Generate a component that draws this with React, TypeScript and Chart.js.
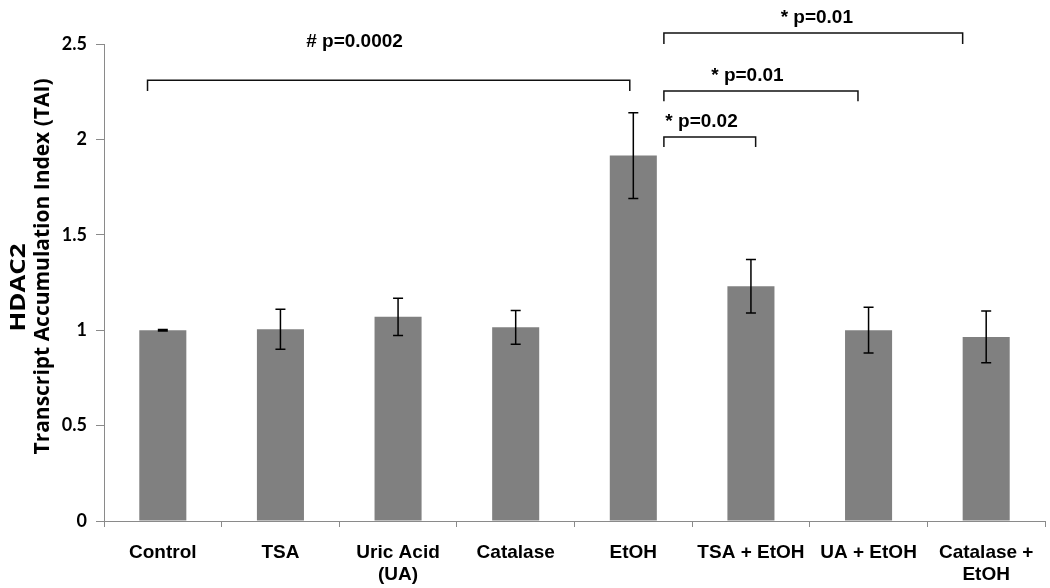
import { useEffect, useRef } from "react";
import { Chart, registerables } from "chart.js";

Chart.register(...registerables);

const categories: (string | string[])[] = [
  "Control",
  "TSA",
  ["Uric Acid", "(UA)"],
  "Catalase",
  "EtOH",
  "TSA + EtOH",
  "UA + EtOH",
  ["Catalase +", "EtOH"],
];
const taiValues = [1.0, 1.005, 1.07, 1.015, 1.915, 1.23, 1.0, 0.965];
const taiErrors = [0.004, 0.105, 0.098, 0.088, 0.225, 0.14, 0.12, 0.135];
const yTickValues = [0, 0.5, 1, 1.5, 2, 2.5];
const yTitle = ["HDAC2", "Transcript Accumulation Index (TAI)"];

// significance brackets: start/end in category-index units, heights in data units
const bracketLabels = ["# p=0.0002", "* p=0.01", "* p=0.01", "* p=0.02"];
const bracketStart = [-0.13, 4.26, 4.26, 4.26];
const bracketEnd = [3.97, 6.8, 5.91, 5.04];
const bracketTop = [2.31, 2.558, 2.254, 2.013];
const bracketFoot = [2.254, 2.5, 2.2, 1.96];
const labelAt = [1.63, 5.56, 4.97, 4.58];
const labelHeight = [2.51, 2.636, 2.332, 2.091];

const errorBarPlugin = {
  id: "errorBars",
  afterDatasetsDraw(chart: any) {
    const ctx = chart.ctx;
    const y = chart.scales.y;
    const meta = chart.getDatasetMeta(0);
    ctx.save();
    ctx.strokeStyle = "#000";
    ctx.lineWidth = 1.5;
    meta.data.forEach((bar: any, i: number) => {
      const v = taiValues[i];
      const e = taiErrors[i];
      const yt = y.getPixelForValue(v + e);
      const yb = y.getPixelForValue(v - e);
      const x = bar.x;
      ctx.beginPath();
      ctx.moveTo(x, yt);
      ctx.lineTo(x, yb);
      ctx.moveTo(x - 5, yt);
      ctx.lineTo(x + 5, yt);
      ctx.moveTo(x - 5, yb);
      ctx.lineTo(x + 5, yb);
      ctx.stroke();
    });
    ctx.restore();
  },
};

const bracketPlugin = {
  id: "brackets",
  afterDraw(chart: any) {
    const ctx = chart.ctx;
    const xs = chart.scales.x;
    const ys = chart.scales.y;
    ctx.save();
    ctx.strokeStyle = "#111";
    ctx.lineWidth = 1.5;
    ctx.fillStyle = "#000";
    ctx.font = "bold 19px 'Liberation Sans', Arial, sans-serif";
    ctx.textAlign = "center";
    ctx.textBaseline = "middle";
    bracketLabels.forEach((lab, i) => {
      const x1 = xs.getPixelForValue(bracketStart[i]);
      const x2 = xs.getPixelForValue(bracketEnd[i]);
      const yt = ys.getPixelForValue(bracketTop[i]);
      const yf = ys.getPixelForValue(bracketFoot[i]);
      ctx.beginPath();
      ctx.moveTo(x1, yf);
      ctx.lineTo(x1, yt);
      ctx.lineTo(x2, yt);
      ctx.lineTo(x2, yf);
      ctx.stroke();
      ctx.fillText(lab, xs.getPixelForValue(labelAt[i]), ys.getPixelForValue(labelHeight[i]));
    });
    ctx.restore();
  },
};

// y-axis title, two lines, drawn rotated beside the axis (text is stretched along its length)
const yTitlePlugin = {
  id: "yTitle",
  afterDraw(chart: any) {
    const ctx = chart.ctx;
    const area = chart.chartArea;
    const mid = (area.top + area.bottom) / 2;
    const lineX = [19, 43];
    const lineShift = [5, -16];
    const lineLength = [88, 376];
    ctx.save();
    ctx.fillStyle = "#000";
    ctx.textAlign = "center";
    ctx.textBaseline = "middle";
    ctx.font = "bold 21px 'Open Sans', Lato, sans-serif";
    yTitle.forEach((t, i) => {
      const w = ctx.measureText(t).width;
      ctx.save();
      ctx.translate(lineX[i], mid + lineShift[i]);
      ctx.rotate(-Math.PI / 2);
      ctx.scale(lineLength[i] / w, 1);
      ctx.fillText(t, 0, 0);
      ctx.restore();
    });
    ctx.restore();
  },
};

export default function App() {
  const ref = useRef<HTMLCanvasElement>(null);
  useEffect(() => {
    if (!ref.current) return;
    const chart = new Chart(ref.current, {
      type: "bar",
      data: {
        labels: categories,
        datasets: [
          {
            data: taiValues,
            backgroundColor: "#808080",
            borderWidth: 0,
            barPercentage: 0.4,
            categoryPercentage: 1,
          },
        ],
      },
      options: {
        responsive: false,
        animation: false,
        layout: { padding: { top: 44, right: 5, left: 0, bottom: 0 } },
        plugins: { legend: { display: false }, tooltip: { enabled: false } },
        scales: {
          x: {
            grid: {
              display: true,
              drawOnChartArea: false,
              drawTicks: true,
              tickLength: 6,
              color: "#8a8a8a",
              offset: true,
            },
            border: { display: true, color: "#8a8a8a", width: 1 },
            ticks: {
              color: "#000",
              padding: 14,
              maxRotation: 0,
              autoSkip: false,
              font: { family: "'Liberation Sans', Arial, sans-serif", size: 19, weight: "bold", lineHeight: 1.2 },
            },
            afterFit(scale: any) {
              scale.height = 67;
            },
          },
          y: {
            min: 0,
            max: 2.5,
            afterBuildTicks(scale: any) {
              scale.ticks = yTickValues.map((v) => ({ value: v }));
            },
            grid: {
              display: true,
              drawOnChartArea: false,
              drawTicks: true,
              tickLength: 8,
              color: "#8a8a8a",
            },
            border: { display: true, color: "#8a8a8a", width: 1 },
            ticks: {
              color: "#000",
              padding: 9,
              callback: (v: any) => String(v),
              font: { family: "Lato, 'Open Sans', sans-serif", size: 18, weight: "bold" },
            },
            title: { display: false },
            afterFit(scale: any) {
              scale.width = 104;
            },
          },
        },
      },
      plugins: [errorBarPlugin, bracketPlugin, yTitlePlugin],
    });
    return () => chart.destroy();
  }, []);
  return (
    <div style={{ position: "absolute", left: 0, top: 0, width: 1050, height: 588, background: "#fff" }}>
      <canvas ref={ref} width={1050} height={588} />
    </div>
  );
}
